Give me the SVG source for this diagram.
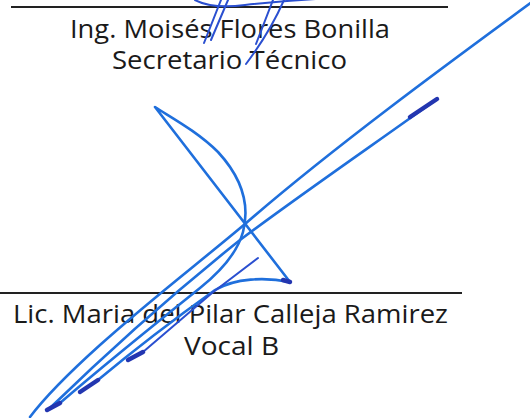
<svg xmlns="http://www.w3.org/2000/svg" width="530" height="418" viewBox="0 0 530 418">
<style>
.t{font-family:"Open Sans","Noto Sans","Liberation Sans",sans-serif;font-size:25.5px;font-weight:500;fill:#1a1a1a}
.rule{stroke:#222;stroke-width:1.8;fill:none}
.ink{fill:none;stroke:#1f6fdc;stroke-width:2.6;stroke-linecap:round;stroke-linejoin:round}
.dk{fill:none;stroke:#2336b0;stroke-width:4.5;stroke-linecap:round}
.ink2{fill:none;stroke:#2a4fd0;stroke-width:2;stroke-linecap:round}
</style>
<rect width="530" height="418" fill="#fff"/>
<g id="sig1">
<line class="rule" x1="11" y1="7" x2="448" y2="7"/>
<text class="t" x="70" y="38" textLength="320" lengthAdjust="spacingAndGlyphs">Ing. Moisés Flores Bonilla</text>
<text class="t" x="112" y="69" textLength="235" lengthAdjust="spacingAndGlyphs">Secretario Técnico</text>
</g>
<g id="sig2">
<line class="rule" x1="0" y1="293" x2="462" y2="293"/>
<text class="t" x="13" y="323" textLength="435" lengthAdjust="spacingAndGlyphs">Lic. Maria del Pilar Calleja Ramirez</text>
<text class="t" x="184" y="355" textLength="95" lengthAdjust="spacingAndGlyphs">Vocal B</text>
</g>
<g id="signatures">
<path class="ink2" d="M195,0 Q212,9 245,5 Q290,0 335,-2"/>
<path class="ink2" d="M221,0 L204,43"/>
<path class="ink2" d="M228,0 L211,40"/>
<path class="ink2" d="M284,0 Q270,32 246,64"/>
<path class="ink2" d="M273,0 L256,44"/>
<path class="ink" d="M532,2 C450,62 330,150 245,224 C200,262 150,300 100,345 C70,372 45,397 30,417"/>
<path class="ink" d="M437,99 C380,140 300,195 240,240 C190,280 120,340 50,408"/>
<path class="ink" d="M60,403 C110,360 160,320 200,288 C225,268 238,250 243,232 C250,205 242,178 218,152 C198,132 172,118 155,107 L290,282"/>
<path class="ink" d="M98,380 C140,345 180,315 215,290 C235,278 265,277 290,282"/>
<path class="ink2" d="M258,258 L212,293 L143,352"/>
<path class="dk" d="M437,99 L410,117"/>
<path class="dk" d="M290,282 L283,280"/>
<path class="dk" d="M47,410 L60,403"/>
<path class="dk" d="M80,392 L98,380"/>
<path class="dk" d="M128,360 L143,352"/>
</g>
</svg>
